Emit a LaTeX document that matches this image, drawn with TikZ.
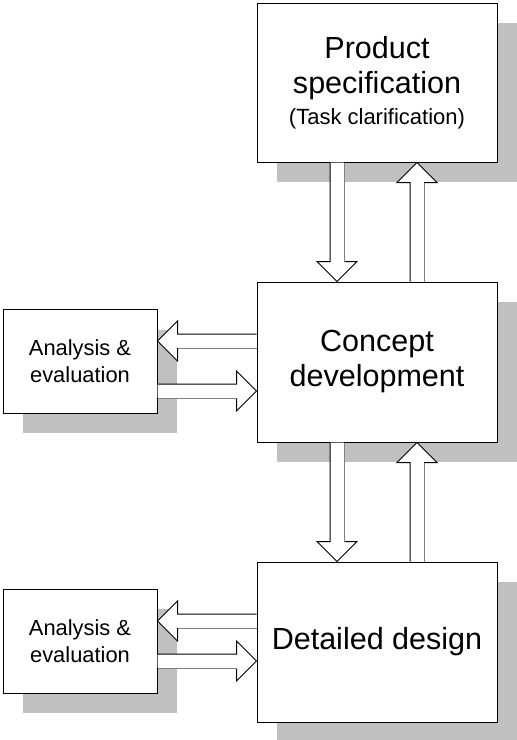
\documentclass[tikz,border=0pt]{standalone}
\usepackage{fontspec}
\setmainfont{Liberation Sans}
\usetikzlibrary{calc,shadows}

\definecolor{shadowgray}{RGB}{192,192,192}
\definecolor{edgegray}{RGB}{128,128,128}

\tikzset{
  stage/.style={draw=black, line width=0.75pt, fill=white,
    minimum width=180pt, minimum height=120pt, inner sep=0pt, align=center,
    font=\fontsize{22.9}{26.25}\selectfont,
    drop shadow={shadow xshift=15pt, shadow yshift=-15pt, opacity=1, fill=shadowgray}},
  check/.style={draw=black, line width=0.75pt, fill=white,
    minimum width=115.5pt, minimum height=77.5pt, inner sep=0pt, align=center,
    font=\fontsize{16.4}{20.25}\selectfont,
    drop shadow={shadow xshift=15pt, shadow yshift=-15pt, opacity=1, fill=shadowgray}},
  arrline/.style={draw=black, line width=0.75pt, line join=miter},
  arrshade/.style={draw=edgegray, line width=0.75pt},
}

% Block arrows: #1 = start anchor, #2 = anchor the tip touches, #3 = offset of the axis
\newcommand\blockdown[3]{%
  \coordinate (ba) at ($(#1)+(#3,0)$);
  \coordinate (bb) at (ba |- #2);
  \fill[white] ($(ba)+(-7,0)$) -- ($(bb)+(-7,-20)$) -- ($(bb)+(-20,-20)$) -- (bb)
    -- ($(bb)+(20,-20)$) -- ($(bb)+(7,-20)$) -- ($(ba)+(7,0)$) -- cycle;
  \draw[arrline] ($(ba)+(-7,0)$) -- ($(bb)+(-7,-20)$) -- ($(bb)+(-20,-20)$) -- (bb)
    -- ($(bb)+(20,-20)$) -- ($(bb)+(7,-20)$);
  \draw[arrshade] ($(bb)+(7,-20)$) -- ($(ba)+(7,0)$);
}
\newcommand\blockup[3]{%
  \coordinate (ba) at ($(#1)+(#3,0)$);
  \coordinate (bb) at (ba |- #2);
  \fill[white] ($(ba)+(-7,0)$) -- ($(bb)+(-7,20)$) -- ($(bb)+(-20,20)$) -- (bb)
    -- ($(bb)+(20,20)$) -- ($(bb)+(7,20)$) -- ($(ba)+(7,0)$) -- cycle;
  \draw[arrline] ($(ba)+(-7,0)$) -- ($(bb)+(-7,20)$) -- ($(bb)+(-20,20)$) -- (bb)
    -- ($(bb)+(20,20)$) -- ($(bb)+(7,20)$);
  \draw[arrshade] ($(bb)+(7,20)$) -- ($(ba)+(7,0)$);
}
\newcommand\blockleft[3]{%
  \coordinate (ba) at ($(#1)+(0,#3)$);
  \coordinate (bb) at (ba -| #2);
  \fill[white] ($(ba)+(0,-7)$) -- ($(bb)+(20,-7)$) -- ($(bb)+(20,-20)$) -- (bb)
    -- ($(bb)+(20,20)$) -- ($(bb)+(20,7)$) -- ($(ba)+(0,7)$) -- cycle;
  \draw[arrline] ($(ba)+(0,-7)$) -- ($(bb)+(20,-7)$) -- ($(bb)+(20,-20)$) -- (bb)
    -- ($(bb)+(20,20)$) -- ($(bb)+(20,7)$);
  \draw[arrshade] ($(bb)+(20,7)$) -- ($(ba)+(0,7)$);
}
\newcommand\blockright[3]{%
  \coordinate (ba) at ($(#1)+(0,#3)$);
  \coordinate (bb) at (ba -| #2);
  \fill[white] ($(ba)+(0,-7)$) -- ($(bb)+(-20,-7)$) -- ($(bb)+(-20,-20)$) -- (bb)
    -- ($(bb)+(-20,20)$) -- ($(bb)+(-20,7)$) -- ($(ba)+(0,7)$) -- cycle;
  \draw[arrline] ($(ba)+(0,-7)$) -- ($(bb)+(-20,-7)$) -- ($(bb)+(-20,-20)$) -- (bb)
    -- ($(bb)+(-20,20)$) -- ($(bb)+(-20,7)$);
  \draw[arrshade] ($(bb)+(-20,7)$) -- ($(ba)+(0,7)$);
}

\begin{document}
\begin{tikzpicture}[x=0.75pt, y=-0.75pt]
  \useasboundingbox (0,0) rectangle (517,740);

  % design stages
  \node[stage, minimum height=119.25pt] (spec) at (377,82.5)
    {Product\\specification\\[-3pt]{\fontsize{16.5}{19}\selectfont(Task clarification)}};
  \node[stage] (concept) at (377,362) {Concept\\development};
  \node[stage] (detail) at (377,642) {Detailed design};

  % analysis loops
  \node[check] (ana1) at (80,361.5) {Analysis \&\\evaluation};
  \node[check, minimum height=78pt] (ana2) at (80,641) {Analysis \&\\evaluation};

  % flow between stages
  \blockdown{spec.south}{concept.north}{-40}
  \blockup{concept.north}{spec.south}{40}
  \blockdown{concept.south}{detail.north}{-40}
  \blockup{detail.north}{concept.south}{40}

  % exchange with analysis
  \blockleft{concept.west}{ana1.east}{-21}
  \blockright{ana1.east}{concept.west}{29.5}
  \blockleft{detail.west}{ana2.east}{-21}
  \blockright{ana2.east}{detail.west}{20}
\end{tikzpicture}
\end{document}
